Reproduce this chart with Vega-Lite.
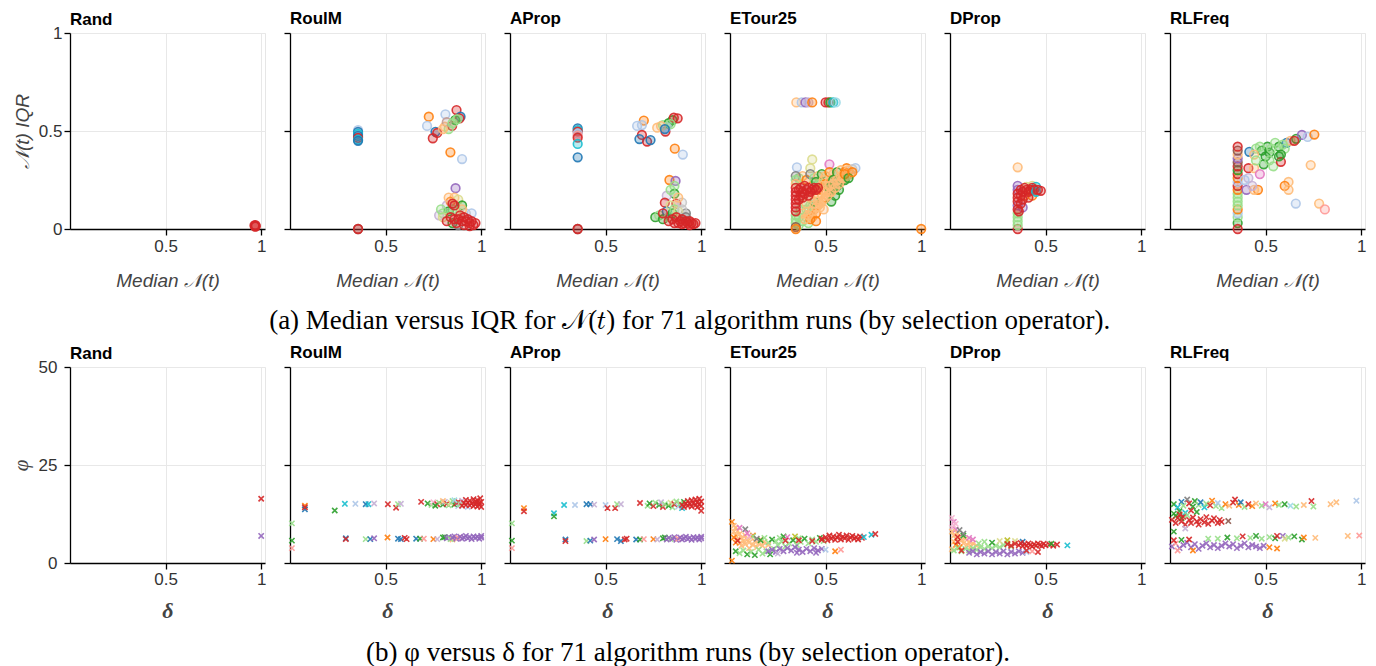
{
"$schema": "https://vega.github.io/schema/vega-lite/v6.json",
"padding": {"left": 9, "top": 9, "right": 6, "bottom": 0},
"config": {
  "font": "Liberation Sans",
  "view": {"stroke": "#e6e6e6"},
  "axis": {"domainColor": "#000", "domainWidth": 1.3, "tickColor": "#000", "tickWidth": 1.3, "tickSize": 6, "gridColor": "#e8e8e8", "labelFont": "Liberation Sans", "labelFontSize": 17, "labelColor": "#333", "titleFont": "Liberation Sans", "titleFontSize": 19, "titleFontStyle": "italic", "titleFontWeight": "normal", "titleColor": "#444"},
  "title": {"font": "Liberation Sans", "fontSize": 17, "fontWeight": "bold", "anchor": "start", "frame": "group", "color": "#000", "offset": 0}
},
"datasets": {
"aRand": [{"x":0.965,"y":0.018,"c":6},{"x":0.97,"y":0.02,"c":6},{"x":0.972,"y":0.014,"c":6},{"x":0.968,"y":0.012,"c":6}],
"aRoulM": [{"x":0.356,"y":0.505,"c":1},{"x":0.356,"y":0.495,"c":0},{"x":0.356,"y":0.485,"c":18},{"x":0.356,"y":0.475,"c":0},{"x":0.356,"y":0.465,"c":6},{"x":0.356,"y":0.455,"c":18},{"x":0.356,"y":0.45,"c":0},{"x":0.356,"y":0.0,"c":10},{"x":0.356,"y":0.0,"c":6},
{"x":0.726,"y":0.573,"c":2},{"x":0.717,"y":0.526,"c":1},{"x":0.813,"y":0.585,"c":1},{"x":0.871,"y":0.607,"c":6},{"x":0.892,"y":0.573,"c":0},{"x":0.887,"y":0.565,"c":6},{"x":0.761,"y":0.496,"c":0},{"x":0.77,"y":0.49,"c":6},{"x":0.747,"y":0.463,"c":6},{"x":0.81,"y":0.522,"c":3},{"x":0.848,"y":0.526,"c":6},{"x":0.83,"y":0.51,"c":5},{"x":0.864,"y":0.556,"c":4},{"x":0.82,"y":0.545,"c":11},{"x":0.85,"y":0.54,"c":5},{"x":0.875,"y":0.56,"c":5},{"x":0.8,"y":0.51,"c":3},
{"x":0.839,"y":0.391,"c":2},{"x":0.90,"y":0.357,"c":1},{"x":0.866,"y":0.208,"c":8},
{"x":0.86,"y":0.16,"c":3},{"x":0.84,"y":0.14,"c":2},{"x":0.88,"y":0.15,"c":17},{"x":0.82,"y":0.12,"c":9},{"x":0.9,"y":0.12,"c":4},{"x":0.85,"y":0.1,"c":5},{"x":0.8,"y":0.08,"c":5},{"x":0.78,"y":0.07,"c":9},{"x":0.83,"y":0.09,"c":4},{"x":0.87,"y":0.09,"c":5},{"x":0.92,"y":0.08,"c":15},{"x":0.95,"y":0.08,"c":1},{"x":0.8,"y":0.06,"c":17},{"x":0.9,"y":0.1,"c":3},{"x":0.79,"y":0.1,"c":5},{"x":0.83,"y":0.16,"c":3},{"x":0.85,"y":0.03,"c":4},{"x":0.88,"y":0.02,"c":14},
{"x":0.86,"y":0.12,"c":6},{"x":0.85,"y":0.13,"c":6},{"x":0.84,"y":0.06,"c":6},{"x":0.86,"y":0.05,"c":6},{"x":0.88,"y":0.05,"c":6},{"x":0.9,"y":0.04,"c":6},{"x":0.92,"y":0.04,"c":6},{"x":0.94,"y":0.03,"c":6},{"x":0.96,"y":0.02,"c":6},{"x":0.89,"y":0.07,"c":6},{"x":0.91,"y":0.06,"c":6},{"x":0.93,"y":0.05,"c":6},{"x":0.95,"y":0.04,"c":6},{"x":0.97,"y":0.03,"c":6},{"x":0.82,"y":0.04,"c":6},{"x":0.87,"y":0.03,"c":6},{"x":0.91,"y":0.02,"c":6},{"x":0.94,"y":0.015,"c":6}],
"aAProp": [{"x":0.354,"y":0.514,"c":0},{"x":0.354,"y":0.505,"c":18},{"x":0.354,"y":0.497,"c":6},{"x":0.354,"y":0.486,"c":1},{"x":0.354,"y":0.476,"c":7},{"x":0.354,"y":0.466,"c":6},{"x":0.354,"y":0.434,"c":18},{"x":0.354,"y":0.366,"c":0},{"x":0.354,"y":0.0,"c":10},{"x":0.354,"y":0.0,"c":6},
{"x":0.70,"y":0.553,"c":2},{"x":0.665,"y":0.526,"c":1},{"x":0.69,"y":0.53,"c":1},{"x":0.69,"y":0.48,"c":6},{"x":0.677,"y":0.459,"c":0},{"x":0.717,"y":0.446,"c":6},{"x":0.735,"y":0.454,"c":0},{"x":0.813,"y":0.497,"c":6},{"x":0.77,"y":0.517,"c":3},{"x":0.80,"y":0.53,"c":5},{"x":0.83,"y":0.54,"c":4},{"x":0.85,"y":0.555,"c":4},{"x":0.857,"y":0.568,"c":6},{"x":0.877,"y":0.565,"c":6},{"x":0.82,"y":0.52,"c":1},{"x":0.79,"y":0.525,"c":3},{"x":0.84,"y":0.535,"c":5},{"x":0.81,"y":0.51,"c":0},
{"x":0.862,"y":0.41,"c":2},{"x":0.904,"y":0.38,"c":1},{"x":0.834,"y":0.25,"c":2},{"x":0.866,"y":0.245,"c":8},{"x":0.86,"y":0.22,"c":5},{"x":0.86,"y":0.18,"c":4},{"x":0.82,"y":0.17,"c":9},{"x":0.81,"y":0.134,"c":6},{"x":0.87,"y":0.13,"c":6},{"x":0.9,"y":0.135,"c":15},{"x":0.92,"y":0.08,"c":14},{"x":0.84,"y":0.2,"c":5},{"x":0.88,"y":0.16,"c":3},
{"x":0.76,"y":0.06,"c":4},{"x":0.78,"y":0.07,"c":5},{"x":0.8,"y":0.05,"c":4},{"x":0.82,"y":0.09,"c":0},{"x":0.83,"y":0.06,"c":5},{"x":0.84,"y":0.12,"c":17},{"x":0.85,"y":0.08,"c":4},{"x":0.86,"y":0.1,"c":5},{"x":0.88,"y":0.09,"c":17},{"x":0.9,"y":0.1,"c":15},{"x":0.92,"y":0.06,"c":14},
{"x":0.8,"y":0.08,"c":6},{"x":0.83,"y":0.04,"c":6},{"x":0.85,"y":0.05,"c":6},{"x":0.87,"y":0.06,"c":6},{"x":0.89,"y":0.04,"c":6},{"x":0.9,"y":0.05,"c":6},{"x":0.91,"y":0.03,"c":6},{"x":0.92,"y":0.04,"c":6},{"x":0.93,"y":0.03,"c":6},{"x":0.94,"y":0.04,"c":6},{"x":0.95,"y":0.03,"c":6},{"x":0.96,"y":0.025,"c":6},{"x":0.88,"y":0.03,"c":6},{"x":0.86,"y":0.03,"c":6},{"x":0.9,"y":0.025,"c":6},{"x":0.94,"y":0.02,"c":6},{"x":0.97,"y":0.03,"c":6}],
"aETour25": [{"x":0.347,"y":0.646,"c":3},{"x":0.375,"y":0.646,"c":1},{"x":0.395,"y":0.646,"c":8},{"x":0.41,"y":0.646,"c":9},{"x":0.43,"y":0.646,"c":2},{"x":0.5,"y":0.646,"c":6},{"x":0.515,"y":0.646,"c":6},{"x":0.525,"y":0.646,"c":4},{"x":0.54,"y":0.646,"c":18},{"x":0.553,"y":0.646,"c":19},{"x":1.0,"y":0.0,"c":2},
{"x":0.43,"y":0.355,"c":17},{"x":0.35,"y":0.315,"c":1},{"x":0.42,"y":0.31,"c":17},{"x":0.52,"y":0.33,"c":12},{"x":0.656,"y":0.311,"c":1},{"x":0.61,"y":0.31,"c":2},{"x":0.64,"y":0.305,"c":15},
{"x":0.36,"y":0.26,"c":5},{"x":0.38,"y":0.27,"c":3},{"x":0.4,"y":0.25,"c":2},{"x":0.42,"y":0.28,"c":14},{"x":0.44,"y":0.26,"c":5},{"x":0.46,"y":0.27,"c":3},{"x":0.48,"y":0.28,"c":4},{"x":0.5,"y":0.27,"c":3},{"x":0.52,"y":0.29,"c":2},{"x":0.54,"y":0.28,"c":3},{"x":0.56,"y":0.29,"c":4},{"x":0.58,"y":0.3,"c":3},{"x":0.6,"y":0.29,"c":2},{"x":0.62,"y":0.3,"c":3},{"x":0.45,"y":0.24,"c":4},{"x":0.47,"y":0.23,"c":5},{"x":0.49,"y":0.25,"c":3},{"x":0.5,"y":0.23,"c":2},{"x":0.52,"y":0.24,"c":3},{"x":0.54,"y":0.25,"c":4},
{"x":0.38,"y":0.04,"c":5},{"x":0.4,"y":0.06,"c":3},{"x":0.42,"y":0.08,"c":3},{"x":0.44,"y":0.1,"c":3},{"x":0.46,"y":0.12,"c":3},{"x":0.48,"y":0.14,"c":3},{"x":0.5,"y":0.16,"c":2},{"x":0.52,"y":0.18,"c":3},{"x":0.54,"y":0.2,"c":3},{"x":0.56,"y":0.22,"c":4},{"x":0.58,"y":0.24,"c":3},{"x":0.6,"y":0.25,"c":4},{"x":0.4,"y":0.1,"c":5},{"x":0.42,"y":0.12,"c":5},{"x":0.44,"y":0.14,"c":4},{"x":0.46,"y":0.16,"c":3},{"x":0.48,"y":0.18,"c":3},{"x":0.5,"y":0.2,"c":3},{"x":0.52,"y":0.21,"c":4},{"x":0.55,"y":0.17,"c":4},{"x":0.57,"y":0.2,"c":4},{"x":0.41,"y":0.03,"c":5},{"x":0.36,"y":0.06,"c":5},{"x":0.37,"y":0.1,"c":5},{"x":0.39,"y":0.13,"c":5},{"x":0.36,"y":0.02,"c":5},{"x":0.43,"y":0.06,"c":3},{"x":0.45,"y":0.08,"c":2},{"x":0.47,"y":0.11,"c":3},{"x":0.53,"y":0.14,"c":4},{"x":0.49,"y":0.1,"c":3},{"x":0.42,"y":0.05,"c":2},{"x":0.46,"y":0.2,"c":2},
{"x":0.39,"y":0.05,"c":3},{"x":0.41,"y":0.07,"c":3},{"x":0.43,"y":0.09,"c":3},{"x":0.45,"y":0.11,"c":3},{"x":0.47,"y":0.13,"c":3},{"x":0.49,"y":0.15,"c":3},{"x":0.51,"y":0.17,"c":3},{"x":0.53,"y":0.19,"c":3},{"x":0.55,"y":0.21,"c":3},{"x":0.57,"y":0.23,"c":3},{"x":0.59,"y":0.26,"c":3},{"x":0.61,"y":0.27,"c":3},{"x":0.63,"y":0.28,"c":3},{"x":0.38,"y":0.08,"c":3},{"x":0.4,"y":0.13,"c":3},{"x":0.42,"y":0.16,"c":3},{"x":0.44,"y":0.18,"c":3},{"x":0.46,"y":0.14,"c":3},{"x":0.48,"y":0.22,"c":3},{"x":0.5,"y":0.19,"c":3},{"x":0.52,"y":0.22,"c":3},{"x":0.54,"y":0.23,"c":3},{"x":0.56,"y":0.25,"c":3},{"x":0.58,"y":0.27,"c":3},{"x":0.6,"y":0.28,"c":2},{"x":0.62,"y":0.26,"c":4},{"x":0.64,"y":0.29,"c":2},{"x":0.45,"y":0.04,"c":2},
{"x":0.344,"y":0.27,"c":14},{"x":0.344,"y":0.25,"c":5},{"x":0.344,"y":0.23,"c":3},{"x":0.344,"y":0.07,"c":5},{"x":0.344,"y":0.05,"c":5},{"x":0.344,"y":0.03,"c":5},{"x":0.344,"y":0.01,"c":10},{"x":0.344,"y":0.0,"c":2},
{"x":0.344,"y":0.21,"c":6},{"x":0.344,"y":0.19,"c":6},{"x":0.344,"y":0.17,"c":6},{"x":0.344,"y":0.15,"c":6},{"x":0.344,"y":0.13,"c":6},{"x":0.344,"y":0.11,"c":6},{"x":0.344,"y":0.09,"c":6},
{"x":0.36,"y":0.2,"c":6},{"x":0.37,"y":0.21,"c":6},{"x":0.38,"y":0.19,"c":6},{"x":0.39,"y":0.22,"c":6},{"x":0.4,"y":0.2,"c":6},{"x":0.41,"y":0.21,"c":6},{"x":0.42,"y":0.19,"c":6},{"x":0.43,"y":0.2,"c":6},{"x":0.44,"y":0.21,"c":6},{"x":0.45,"y":0.2,"c":6},{"x":0.46,"y":0.21,"c":6},{"x":0.37,"y":0.17,"c":6},{"x":0.39,"y":0.18,"c":6},{"x":0.41,"y":0.17,"c":6},{"x":0.36,"y":0.15,"c":6},{"x":0.38,"y":0.16,"c":6}],
"aDProp": [{"x":0.354,"y":0.315,"c":3},{"x":0.354,"y":0.0,"c":6},{"x":0.354,"y":0.02,"c":5},{"x":0.354,"y":0.04,"c":5},{"x":0.354,"y":0.06,"c":5},{"x":0.354,"y":0.08,"c":5},{"x":0.354,"y":0.12,"c":8},{"x":0.354,"y":0.2,"c":8},{"x":0.354,"y":0.22,"c":8},{"x":0.4,"y":0.215,"c":17},{"x":0.43,"y":0.22,"c":17},{"x":0.45,"y":0.215,"c":18},{"x":0.38,"y":0.11,"c":8},{"x":0.39,"y":0.17,"c":2},{"x":0.43,"y":0.17,"c":2},
{"x":0.354,"y":0.1,"c":6},{"x":0.354,"y":0.14,"c":6},{"x":0.354,"y":0.16,"c":6},{"x":0.354,"y":0.18,"c":6},{"x":0.37,"y":0.2,"c":6},{"x":0.38,"y":0.19,"c":6},{"x":0.39,"y":0.21,"c":6},{"x":0.4,"y":0.2,"c":6},{"x":0.41,"y":0.19,"c":6},{"x":0.42,"y":0.2,"c":6},{"x":0.43,"y":0.21,"c":6},{"x":0.44,"y":0.2,"c":6},{"x":0.45,"y":0.19,"c":18},{"x":0.46,"y":0.2,"c":6},{"x":0.475,"y":0.195,"c":6},{"x":0.37,"y":0.17,"c":6},{"x":0.38,"y":0.15,"c":6},{"x":0.41,"y":0.16,"c":6},{"x":0.37,"y":0.13,"c":6},{"x":0.36,"y":0.09,"c":6}],
"aRLFreq": [{"x":0.354,"y":0.03,"c":4},{"x":0.354,"y":0.06,"c":5},{"x":0.354,"y":0.08,"c":1},{"x":0.354,"y":0.1,"c":2},{"x":0.354,"y":0.12,"c":5},{"x":0.354,"y":0.14,"c":5},{"x":0.354,"y":0.16,"c":5},{"x":0.354,"y":0.18,"c":5},{"x":0.354,"y":0.2,"c":2},{"x":0.354,"y":0.22,"c":6},{"x":0.354,"y":0.24,"c":1},{"x":0.354,"y":0.26,"c":2},{"x":0.354,"y":0.28,"c":6},{"x":0.354,"y":0.3,"c":4},{"x":0.354,"y":0.32,"c":6},{"x":0.354,"y":0.34,"c":10},{"x":0.354,"y":0.36,"c":8},{"x":0.354,"y":0.38,"c":3},{"x":0.354,"y":0.4,"c":10},{"x":0.354,"y":0.42,"c":6},{"x":0.354,"y":0.0,"c":6},
{"x":0.415,"y":0.394,"c":0},{"x":0.45,"y":0.41,"c":5},{"x":0.48,"y":0.40,"c":4},{"x":0.51,"y":0.42,"c":4},{"x":0.5,"y":0.37,"c":4},{"x":0.52,"y":0.39,"c":4},{"x":0.55,"y":0.44,"c":5},{"x":0.57,"y":0.42,"c":4},{"x":0.61,"y":0.44,"c":0},{"x":0.63,"y":0.45,"c":3},{"x":0.66,"y":0.46,"c":4},{"x":0.69,"y":0.48,"c":8},{"x":0.72,"y":0.47,"c":1},{"x":0.755,"y":0.482,"c":2},{"x":0.53,"y":0.41,"c":5},{"x":0.47,"y":0.42,"c":5},{"x":0.59,"y":0.43,"c":5},{"x":0.44,"y":0.38,"c":3},{"x":0.65,"y":0.45,"c":6},{"x":0.6,"y":0.41,"c":5},{"x":0.58,"y":0.38,"c":4},{"x":0.49,"y":0.33,"c":4},{"x":0.54,"y":0.32,"c":5},{"x":0.58,"y":0.343,"c":6},{"x":0.57,"y":0.37,"c":4},{"x":0.41,"y":0.31,"c":6},{"x":0.44,"y":0.31,"c":3},{"x":0.47,"y":0.28,"c":12},{"x":0.41,"y":0.26,"c":9},{"x":0.4,"y":0.2,"c":8},{"x":0.46,"y":0.2,"c":2},{"x":0.44,"y":0.2,"c":3},{"x":0.736,"y":0.326,"c":3},{"x":0.62,"y":0.24,"c":3},{"x":0.6,"y":0.22,"c":2},{"x":0.62,"y":0.2,"c":3},{"x":0.658,"y":0.13,"c":1},{"x":0.78,"y":0.13,"c":3},{"x":0.81,"y":0.1,"c":7},{"x":0.52,"y":0.35,"c":5},{"x":0.45,"y":0.35,"c":5},{"x":0.43,"y":0.22,"c":9},{"x":0.39,"y":0.25,"c":1}],
"bRand": [{"x":1.0,"y":16.4,"c":6},{"x":1.0,"y":6.9,"c":8}],
"bRoulM": [{"x":0.01,"y":10.1,"c":5},{"x":0.01,"y":5.7,"c":4},{"x":0.01,"y":3.8,"c":7},{"x":0.078,"y":14.6,"c":2},{"x":0.078,"y":13.7,"c":0},{"x":0.078,"y":14.2,"c":6},{"x":0.234,"y":13.4,"c":4},{"x":0.287,"y":15.1,"c":18},{"x":0.342,"y":15.1,"c":1},{"x":0.396,"y":15.0,"c":0},{"x":0.41,"y":15.0,"c":18},{"x":0.44,"y":15.2,"c":9},{"x":0.512,"y":15.0,"c":6},{"x":0.555,"y":14.1,"c":6},{"x":0.565,"y":15.0,"c":5},{"x":0.58,"y":15.1,"c":9},{"x":0.686,"y":15.6,"c":6},
{"x":0.72,"y":15.2,"c":4},{"x":0.74,"y":14.8,"c":5},{"x":0.75,"y":15.5,"c":13},{"x":0.77,"y":15.0,"c":6},{"x":0.78,"y":15.4,"c":5},{"x":0.8,"y":14.9,"c":4},{"x":0.81,"y":15.6,"c":9},{"x":0.82,"y":15.1,"c":6},{"x":0.83,"y":14.7,"c":5},{"x":0.84,"y":15.3,"c":17},{"x":0.85,"y":15.8,"c":5},{"x":0.86,"y":14.9,"c":4},{"x":0.87,"y":15.2,"c":6},{"x":0.88,"y":14.5,"c":1},{"x":0.88,"y":15.6,"c":6},{"x":0.89,"y":15.0,"c":5},{"x":0.9,"y":14.6,"c":6},{"x":0.9,"y":15.9,"c":9},{"x":0.86,"y":16.0,"c":19},{"x":0.8,"y":15.8,"c":3},{"x":0.93,"y":14.3,"c":1},{"x":0.76,"y":14.6,"c":4},{"x":0.91,"y":15.3,"c":6},{"x":0.92,"y":14.8,"c":6},{"x":0.92,"y":16.1,"c":6},{"x":0.93,"y":15.4,"c":6},{"x":0.94,"y":14.7,"c":6},{"x":0.94,"y":15.9,"c":6},{"x":0.95,"y":15.2,"c":6},{"x":0.96,"y":14.5,"c":6},{"x":0.96,"y":16.3,"c":6},{"x":0.97,"y":15.0,"c":6},{"x":0.97,"y":15.7,"c":6},{"x":0.98,"y":14.4,"c":6},{"x":0.98,"y":16.0,"c":6},{"x":0.99,"y":15.3,"c":6},{"x":0.99,"y":14.8,"c":6},{"x":1.0,"y":15.6,"c":6},{"x":1.0,"y":14.3,"c":6},{"x":0.995,"y":16.5,"c":6},
{"x":0.292,"y":6.3,"c":0},{"x":0.292,"y":6.1,"c":6},{"x":0.396,"y":6.1,"c":5},{"x":0.42,"y":6.1,"c":0},{"x":0.44,"y":6.3,"c":8},{"x":0.51,"y":6.5,"c":2},{"x":0.565,"y":6.2,"c":0},{"x":0.58,"y":6.1,"c":0},{"x":0.6,"y":6.4,"c":6},{"x":0.61,"y":6.1,"c":6},{"x":0.66,"y":6.2,"c":0},{"x":0.68,"y":6.2,"c":4},{"x":0.7,"y":6.2,"c":7},{"x":0.75,"y":6.1,"c":2},{"x":0.77,"y":6.1,"c":9},{"x":0.8,"y":6.5,"c":4},{"x":0.85,"y":6.0,"c":3},{"x":0.81,"y":6.6,"c":4},
{"x":0.82,"y":6.3,"c":8},{"x":0.83,"y":6.6,"c":8},{"x":0.84,"y":6.1,"c":5},{"x":0.85,"y":6.5,"c":8},{"x":0.86,"y":6.8,"c":8},{"x":0.87,"y":6.2,"c":8},{"x":0.88,"y":6.4,"c":7},{"x":0.89,"y":6.7,"c":8},{"x":0.9,"y":6.2,"c":8},{"x":0.91,"y":6.5,"c":8},{"x":0.92,"y":6.9,"c":8},{"x":0.93,"y":6.3,"c":8},{"x":0.94,"y":6.6,"c":8},{"x":0.95,"y":6.1,"c":8},{"x":0.96,"y":6.8,"c":8},{"x":0.97,"y":6.4,"c":8},{"x":0.98,"y":6.7,"c":8},{"x":0.99,"y":6.2,"c":8},{"x":1.0,"y":6.5,"c":8},{"x":1.0,"y":6.9,"c":8}],
"bAProp": [{"x":0.01,"y":10.1,"c":5},{"x":0.01,"y":5.7,"c":4},{"x":0.01,"y":3.8,"c":7},{"x":0.073,"y":14.0,"c":2},{"x":0.073,"y":13.2,"c":6},{"x":0.23,"y":12.7,"c":18},{"x":0.23,"y":11.9,"c":4},{"x":0.283,"y":14.8,"c":18},{"x":0.34,"y":14.8,"c":1},{"x":0.4,"y":15.0,"c":0},{"x":0.42,"y":15.0,"c":0},{"x":0.44,"y":14.9,"c":9},{"x":0.5,"y":14.8,"c":1},{"x":0.51,"y":14.0,"c":6},{"x":0.55,"y":14.0,"c":6},{"x":0.56,"y":15.0,"c":5},{"x":0.58,"y":15.0,"c":9},{"x":0.68,"y":15.3,"c":6},
{"x":0.72,"y":14.6,"c":5},{"x":0.73,"y":15.2,"c":4},{"x":0.75,"y":14.5,"c":6},{"x":0.76,"y":15.4,"c":5},{"x":0.78,"y":14.8,"c":4},{"x":0.79,"y":15.5,"c":9},{"x":0.8,"y":14.3,"c":6},{"x":0.81,"y":15.0,"c":5},{"x":0.83,"y":14.6,"c":4},{"x":0.84,"y":15.4,"c":17},{"x":0.85,"y":14.2,"c":5},{"x":0.86,"y":15.0,"c":6},{"x":0.87,"y":15.7,"c":5},{"x":0.88,"y":14.4,"c":1},{"x":0.89,"y":15.2,"c":5},{"x":0.9,"y":14.0,"c":18},{"x":0.91,"y":15.6,"c":4},
{"x":0.9,"y":14.8,"c":6},{"x":0.91,"y":14.3,"c":6},{"x":0.92,"y":15.2,"c":6},{"x":0.93,"y":14.6,"c":6},{"x":0.93,"y":15.8,"c":6},{"x":0.94,"y":15.0,"c":6},{"x":0.95,"y":14.4,"c":6},{"x":0.95,"y":16.0,"c":6},{"x":0.96,"y":15.3,"c":6},{"x":0.97,"y":14.7,"c":6},{"x":0.97,"y":16.2,"c":6},{"x":0.98,"y":15.5,"c":6},{"x":0.98,"y":14.2,"c":6},{"x":0.99,"y":15.0,"c":6},{"x":0.99,"y":16.4,"c":6},{"x":1.0,"y":15.7,"c":6},{"x":1.0,"y":14.5,"c":6},{"x":1.0,"y":13.3,"c":6},
{"x":0.29,"y":6.0,"c":0},{"x":0.29,"y":5.6,"c":6},{"x":0.4,"y":5.6,"c":5},{"x":0.42,"y":5.7,"c":0},{"x":0.44,"y":6.0,"c":8},{"x":0.5,"y":6.1,"c":2},{"x":0.56,"y":6.1,"c":0},{"x":0.58,"y":5.6,"c":0},{"x":0.6,"y":6.0,"c":6},{"x":0.61,"y":6.2,"c":6},{"x":0.66,"y":6.0,"c":0},{"x":0.68,"y":6.0,"c":4},{"x":0.7,"y":6.1,"c":7},{"x":0.75,"y":6.1,"c":2},{"x":0.77,"y":6.0,"c":9},{"x":0.8,"y":6.3,"c":4},{"x":0.84,"y":6.1,"c":5},{"x":0.81,"y":6.5,"c":4},
{"x":0.82,"y":6.0,"c":8},{"x":0.83,"y":6.4,"c":8},{"x":0.85,"y":6.2,"c":8},{"x":0.86,"y":6.6,"c":8},{"x":0.87,"y":5.9,"c":8},{"x":0.88,"y":6.2,"c":7},{"x":0.89,"y":6.5,"c":8},{"x":0.9,"y":6.0,"c":8},{"x":0.91,"y":6.3,"c":8},{"x":0.92,"y":6.7,"c":8},{"x":0.93,"y":6.1,"c":8},{"x":0.94,"y":6.4,"c":8},{"x":0.95,"y":5.9,"c":8},{"x":0.96,"y":6.6,"c":8},{"x":0.97,"y":6.2,"c":8},{"x":0.98,"y":6.5,"c":8},{"x":0.99,"y":6.0,"c":8},{"x":1.0,"y":6.3,"c":8},{"x":1.0,"y":6.7,"c":8}],
"bETour25": [{"x":0.01,"y":10.5,"c":2},{"x":0.02,"y":9.5,"c":3},{"x":0.02,"y":8.0,"c":3},{"x":0.03,"y":7.0,"c":3},{"x":0.03,"y":9.0,"c":3},{"x":0.04,"y":6.0,"c":3},{"x":0.04,"y":8.2,"c":3},{"x":0.05,"y":5.0,"c":3},{"x":0.05,"y":7.4,"c":3},{"x":0.06,"y":6.4,"c":3},{"x":0.06,"y":4.4,"c":3},{"x":0.07,"y":5.6,"c":3},{"x":0.08,"y":7.0,"c":3},{"x":0.08,"y":4.8,"c":3},{"x":0.09,"y":6.0,"c":3},{"x":0.1,"y":5.2,"c":3},{"x":0.1,"y":3.8,"c":3},{"x":0.11,"y":6.4,"c":3},{"x":0.12,"y":4.6,"c":3},{"x":0.13,"y":5.6,"c":3},{"x":0.14,"y":4.0,"c":3},{"x":0.15,"y":5.0,"c":3},{"x":0.16,"y":6.0,"c":3},{"x":0.17,"y":4.4,"c":3},{"x":0.18,"y":5.4,"c":3},{"x":0.2,"y":4.6,"c":3},{"x":0.02,"y":6.5,"c":2},{"x":0.05,"y":9.0,"c":12},{"x":0.03,"y":5.2,"c":2},{"x":0.12,"y":7.0,"c":2},{"x":0.01,"y":0.6,"c":2},
{"x":0.03,"y":3.0,"c":4},{"x":0.05,"y":2.5,"c":5},{"x":0.07,"y":3.2,"c":5},{"x":0.09,"y":2.2,"c":4},{"x":0.11,"y":2.8,"c":5},{"x":0.13,"y":2.0,"c":4},{"x":0.15,"y":3.4,"c":5},{"x":0.17,"y":2.4,"c":5},{"x":0.19,"y":3.0,"c":5},{"x":0.21,"y":2.2,"c":4},{"x":0.23,"y":3.6,"c":5},{"x":0.25,"y":4.6,"c":5},{"x":0.27,"y":5.4,"c":5},{"x":0.29,"y":4.2,"c":5},{"x":0.31,"y":5.0,"c":5},{"x":0.33,"y":5.8,"c":4},{"x":0.35,"y":4.6,"c":5},{"x":0.37,"y":5.4,"c":5},{"x":0.39,"y":6.2,"c":4},{"x":0.41,"y":5.0,"c":5},{"x":0.43,"y":6.0,"c":5},{"x":0.45,"y":5.4,"c":5},{"x":0.47,"y":6.4,"c":4},{"x":0.49,"y":5.6,"c":5},{"x":0.2,"y":5.2,"c":5},{"x":0.22,"y":6.0,"c":4},{"x":0.24,"y":5.6,"c":5},{"x":0.26,"y":6.4,"c":5},{"x":0.28,"y":6.8,"c":4},{"x":0.16,"y":5.8,"c":4},{"x":0.18,"y":6.4,"c":5},{"x":0.12,"y":6.8,"c":5},{"x":0.14,"y":6.2,"c":14},{"x":0.1,"y":6.8,"c":13},{"x":0.08,"y":8.6,"c":14},{"x":0.09,"y":7.6,"c":12},{"x":0.3,"y":6.6,"c":12},{"x":0.34,"y":6.8,"c":16},{"x":0.36,"y":6.3,"c":5},
{"x":0.2,"y":3.0,"c":8},{"x":0.22,"y":3.4,"c":8},{"x":0.24,"y":2.8,"c":8},{"x":0.26,"y":3.6,"c":8},{"x":0.28,"y":3.0,"c":8},{"x":0.3,"y":3.8,"c":8},{"x":0.32,"y":3.2,"c":8},{"x":0.34,"y":4.0,"c":8},{"x":0.36,"y":3.4,"c":8},{"x":0.38,"y":2.8,"c":8},{"x":0.4,"y":3.6,"c":8},{"x":0.42,"y":3.0,"c":8},{"x":0.44,"y":3.8,"c":8},{"x":0.46,"y":3.2,"c":8},{"x":0.48,"y":3.6,"c":8},{"x":0.5,"y":3.4,"c":1},{"x":0.25,"y":2.4,"c":9},{"x":0.35,"y":2.6,"c":8},{"x":0.45,"y":2.6,"c":8},{"x":0.55,"y":3.0,"c":2},{"x":0.58,"y":3.4,"c":7},
{"x":0.48,"y":6.2,"c":6},{"x":0.5,"y":6.6,"c":6},{"x":0.51,"y":5.8,"c":6},{"x":0.52,"y":7.0,"c":6},{"x":0.53,"y":6.2,"c":6},{"x":0.54,"y":6.8,"c":6},{"x":0.55,"y":5.9,"c":6},{"x":0.56,"y":6.5,"c":6},{"x":0.57,"y":7.2,"c":6},{"x":0.58,"y":6.0,"c":6},{"x":0.59,"y":6.7,"c":6},{"x":0.6,"y":6.3,"c":6},{"x":0.61,"y":7.0,"c":6},{"x":0.62,"y":5.9,"c":6},{"x":0.63,"y":6.5,"c":6},{"x":0.64,"y":6.9,"c":6},{"x":0.65,"y":6.2,"c":6},{"x":0.66,"y":6.6,"c":6},{"x":0.67,"y":6.0,"c":6},{"x":0.68,"y":6.8,"c":6},{"x":0.69,"y":6.4,"c":6},{"x":0.7,"y":6.6,"c":18},{"x":0.74,"y":7.2,"c":18},{"x":0.76,"y":7.4,"c":6},{"x":0.04,"y":5.7,"c":6},{"x":0.29,"y":5.7,"c":6},{"x":0.36,"y":5.8,"c":6},{"x":0.43,"y":5.6,"c":6},{"x":0.48,"y":5.9,"c":6}],
"bDProp": [{"x":0.01,"y":11.5,"c":13},{"x":0.02,"y":10.5,"c":12},{"x":0.02,"y":9.5,"c":13},{"x":0.03,"y":8.5,"c":12},{"x":0.01,"y":9.0,"c":13},{"x":0.03,"y":10.0,"c":13},
{"x":0.01,"y":8.0,"c":3},{"x":0.02,"y":7.0,"c":3},{"x":0.03,"y":6.2,"c":3},{"x":0.02,"y":5.4,"c":3},{"x":0.04,"y":7.6,"c":3},{"x":0.05,"y":6.6,"c":3},{"x":0.06,"y":5.8,"c":3},{"x":0.07,"y":5.0,"c":3},{"x":0.08,"y":6.2,"c":3},{"x":0.09,"y":4.6,"c":3},{"x":0.1,"y":5.4,"c":3},{"x":0.11,"y":4.2,"c":3},{"x":0.12,"y":5.0,"c":3},{"x":0.14,"y":4.4,"c":3},{"x":0.03,"y":4.6,"c":2},{"x":0.05,"y":4.0,"c":2},{"x":0.01,"y":3.5,"c":3},
{"x":0.02,"y":3.2,"c":5},{"x":0.04,"y":3.8,"c":5},{"x":0.06,"y":3.0,"c":5},{"x":0.08,"y":3.6,"c":5},{"x":0.1,"y":3.2,"c":5},{"x":0.12,"y":3.8,"c":5},{"x":0.14,"y":3.4,"c":5},{"x":0.16,"y":4.0,"c":5},{"x":0.18,"y":3.6,"c":5},{"x":0.2,"y":4.2,"c":5},{"x":0.22,"y":3.8,"c":5},{"x":0.24,"y":4.4,"c":5},{"x":0.26,"y":4.0,"c":5},{"x":0.28,"y":4.6,"c":5},{"x":0.3,"y":5.0,"c":5},{"x":0.32,"y":4.2,"c":5},{"x":0.15,"y":5.0,"c":5},{"x":0.18,"y":5.4,"c":5},{"x":0.22,"y":5.2,"c":4},{"x":0.26,"y":5.6,"c":17},{"x":0.3,"y":5.8,"c":16},{"x":0.34,"y":5.6,"c":17},{"x":0.38,"y":5.4,"c":0},{"x":0.07,"y":7.0,"c":4},{"x":0.05,"y":8.4,"c":14},{"x":0.07,"y":7.5,"c":14},{"x":0.1,"y":6.4,"c":12},{"x":0.12,"y":6.0,"c":12},
{"x":0.1,"y":2.6,"c":8},{"x":0.12,"y":3.0,"c":8},{"x":0.14,"y":2.2,"c":8},{"x":0.16,"y":2.8,"c":8},{"x":0.18,"y":2.4,"c":8},{"x":0.2,"y":3.0,"c":8},{"x":0.22,"y":2.2,"c":8},{"x":0.24,"y":2.8,"c":8},{"x":0.26,"y":2.4,"c":8},{"x":0.28,"y":3.0,"c":8},{"x":0.3,"y":2.2,"c":8},{"x":0.32,"y":2.8,"c":8},{"x":0.34,"y":2.4,"c":8},{"x":0.36,"y":3.0,"c":8},{"x":0.38,"y":2.6,"c":8},{"x":0.4,"y":2.8,"c":1},{"x":0.43,"y":3.0,"c":7},
{"x":0.3,"y":4.8,"c":6},{"x":0.32,"y":4.4,"c":6},{"x":0.34,"y":4.9,"c":6},{"x":0.36,"y":4.5,"c":6},{"x":0.37,"y":5.1,"c":6},{"x":0.38,"y":4.3,"c":6},{"x":0.39,"y":4.8,"c":6},{"x":0.4,"y":4.4,"c":6},{"x":0.41,"y":5.0,"c":6},{"x":0.42,"y":4.6,"c":6},{"x":0.43,"y":4.2,"c":6},{"x":0.44,"y":4.8,"c":6},{"x":0.45,"y":4.4,"c":6},{"x":0.46,"y":5.0,"c":6},{"x":0.47,"y":4.6,"c":6},{"x":0.48,"y":4.3,"c":6},{"x":0.49,"y":4.9,"c":6},{"x":0.5,"y":4.5,"c":6},{"x":0.52,"y":4.7,"c":6},{"x":0.54,"y":4.4,"c":6},{"x":0.56,"y":4.7,"c":6},{"x":0.53,"y":4.9,"c":4},{"x":0.614,"y":4.5,"c":18},{"x":0.04,"y":6.6,"c":6},{"x":0.04,"y":5.4,"c":6},{"x":0.06,"y":3.2,"c":6},{"x":0.40,"y":3.2,"c":6},{"x":0.46,"y":2.8,"c":6}],
"bRLFreq": [{"x":0.02,"y":15.0,"c":4},{"x":0.04,"y":14.2,"c":18},{"x":0.06,"y":15.6,"c":0},{"x":0.07,"y":14.6,"c":5},{"x":0.09,"y":16.2,"c":14},{"x":0.1,"y":15.2,"c":6},{"x":0.12,"y":14.4,"c":4},{"x":0.13,"y":15.8,"c":4},{"x":0.15,"y":14.8,"c":5},{"x":0.16,"y":15.5,"c":0},{"x":0.18,"y":14.2,"c":18},{"x":0.19,"y":15.1,"c":5},{"x":0.21,"y":14.7,"c":6},{"x":0.22,"y":15.9,"c":2},{"x":0.24,"y":14.5,"c":5},{"x":0.25,"y":15.3,"c":1},{"x":0.27,"y":14.0,"c":5},{"x":0.29,"y":15.0,"c":2},{"x":0.31,"y":14.6,"c":3},{"x":0.33,"y":15.4,"c":6},{"x":0.34,"y":16.2,"c":6},{"x":0.36,"y":14.8,"c":2},{"x":0.37,"y":15.5,"c":0},{"x":0.39,"y":14.3,"c":5},{"x":0.41,"y":15.0,"c":6},{"x":0.43,"y":14.5,"c":2},{"x":0.45,"y":15.2,"c":3},{"x":0.48,"y":14.6,"c":5},{"x":0.5,"y":15.0,"c":12},{"x":0.52,"y":14.2,"c":9},{"x":0.55,"y":15.2,"c":2},{"x":0.57,"y":14.8,"c":5},{"x":0.6,"y":15.0,"c":4},{"x":0.63,"y":14.6,"c":19},{"x":0.66,"y":14.4,"c":5},{"x":0.7,"y":14.8,"c":3},{"x":0.74,"y":15.8,"c":6},{"x":0.75,"y":14.4,"c":5},{"x":0.84,"y":15.0,"c":3},{"x":0.87,"y":15.5,"c":3},{"x":0.975,"y":15.9,"c":1},{"x":0.05,"y":13.2,"c":4},{"x":0.08,"y":12.8,"c":18},{"x":0.03,"y":12.0,"c":4},{"x":0.06,"y":11.4,"c":4},{"x":0.11,"y":13.4,"c":6},{"x":0.14,"y":13.0,"c":4},
{"x":0.01,"y":11.0,"c":6},{"x":0.03,"y":10.2,"c":6},{"x":0.04,"y":11.5,"c":6},{"x":0.06,"y":10.6,"c":6},{"x":0.07,"y":11.8,"c":6},{"x":0.08,"y":9.8,"c":6},{"x":0.1,"y":11.0,"c":6},{"x":0.11,"y":10.2,"c":6},{"x":0.12,"y":11.6,"c":6},{"x":0.14,"y":10.6,"c":6},{"x":0.15,"y":9.8,"c":6},{"x":0.16,"y":11.2,"c":6},{"x":0.18,"y":10.4,"c":6},{"x":0.19,"y":11.7,"c":6},{"x":0.2,"y":10.0,"c":6},{"x":0.22,"y":10.8,"c":6},{"x":0.23,"y":11.4,"c":6},{"x":0.25,"y":10.2,"c":6},{"x":0.26,"y":11.0,"c":6},{"x":0.27,"y":10.5,"c":6},{"x":0.305,"y":10.7,"c":10},{"x":0.05,"y":12.4,"c":6},{"x":0.02,"y":12.6,"c":4},{"x":0.09,"y":12.2,"c":5},{"x":0.08,"y":8.8,"c":9},{"x":0.02,"y":8.0,"c":4},
{"x":0.25,"y":6.2,"c":5},{"x":0.3,"y":6.5,"c":4},{"x":0.35,"y":6.3,"c":5},{"x":0.38,"y":6.8,"c":6},{"x":0.42,"y":6.4,"c":5},{"x":0.45,"y":6.9,"c":4},{"x":0.48,"y":6.2,"c":5},{"x":0.52,"y":6.6,"c":5},{"x":0.55,"y":6.3,"c":4},{"x":0.56,"y":6.9,"c":6},{"x":0.59,"y":6.9,"c":8},{"x":0.62,"y":6.5,"c":5},{"x":0.65,"y":6.8,"c":4},{"x":0.69,"y":6.0,"c":4},{"x":0.70,"y":6.5,"c":2},{"x":0.76,"y":6.4,"c":3},{"x":0.93,"y":6.9,"c":3},{"x":0.99,"y":7.0,"c":7},{"x":0.6,"y":6.2,"c":17},
{"x":0.01,"y":4.2,"c":8},{"x":0.03,"y":5.0,"c":7},{"x":0.05,"y":3.8,"c":8},{"x":0.07,"y":4.6,"c":8},{"x":0.09,"y":5.2,"c":8},{"x":0.11,"y":4.0,"c":8},{"x":0.13,"y":4.8,"c":8},{"x":0.15,"y":3.6,"c":8},{"x":0.17,"y":4.4,"c":8},{"x":0.19,"y":5.0,"c":8},{"x":0.21,"y":4.0,"c":8},{"x":0.23,"y":4.6,"c":8},{"x":0.25,"y":3.8,"c":8},{"x":0.27,"y":4.4,"c":8},{"x":0.29,"y":5.0,"c":8},{"x":0.31,"y":4.2,"c":8},{"x":0.33,"y":4.8,"c":8},{"x":0.35,"y":3.8,"c":8},{"x":0.37,"y":4.4,"c":8},{"x":0.39,"y":5.0,"c":8},{"x":0.41,"y":4.0,"c":8},{"x":0.43,"y":4.6,"c":8},{"x":0.45,"y":4.2,"c":8},{"x":0.47,"y":3.8,"c":8},{"x":0.49,"y":4.4,"c":8},{"x":0.04,"y":3.2,"c":7},{"x":0.12,"y":3.2,"c":2},{"x":0.02,"y":5.8,"c":6},{"x":0.06,"y":5.9,"c":4},{"x":0.1,"y":6.0,"c":6},{"x":0.2,"y":6.2,"c":5},{"x":0.56,"y":3.7,"c":2},{"x":0.52,"y":4.0,"c":2}]
},
"spacing": 9,
"vconcat": [
{
"hconcat": [
{"title": {"text": "Rand", "offset": -5}, "width": 195, "height": 196, "data": {"name": "aRand"},
 "mark": {"type": "point", "shape": "circle", "size": 75, "strokeWidth": 1.6, "filled": false, "fillOpacity": 0.3, "strokeOpacity": 0.9},
 "encoding": {
  "x": {"field": "x", "type": "quantitative", "scale": {"domain": [0, 1.02], "nice": false}, "axis": {"values": [0.5, 1], "format": ".1~f", "labelPadding": 3, "title": "Median 𝒩(t)", "titlePadding": 17}},
  "y": {"field": "y", "type": "quantitative", "scale": {"domain": [0, 1], "nice": false}, "axis": {"values": [0, 0.5, 1], "format": ".1~f", "title": "𝒩(t) IQR", "titlePadding": 6}},
  "color": {"field": "c", "type": "nominal", "scale": {"domain": [0,1,2,3,4,5,6,7,8,9,10,11,12,13,14,15,16,17,18,19], "scheme": "category20"}, "legend": null},
  "fill": {"field": "c", "type": "nominal", "scale": {"domain": [0,1,2,3,4,5,6,7,8,9,10,11,12,13,14,15,16,17,18,19], "scheme": "category20"}, "legend": null}}},
{"title": "RoulM", "width": 195, "height": 196, "data": {"name": "aRoulM"},
 "mark": {"type": "point", "shape": "circle", "size": 75, "strokeWidth": 1.6, "filled": false, "fillOpacity": 0.3, "strokeOpacity": 0.9},
 "encoding": {
  "x": {"field": "x", "type": "quantitative", "scale": {"domain": [0, 1.02], "nice": false}, "axis": {"values": [0.5, 1], "format": ".1~f", "labelPadding": 3, "title": "Median 𝒩(t)", "titlePadding": 17}},
  "y": {"field": "y", "type": "quantitative", "scale": {"domain": [0, 1], "nice": false}, "axis": {"values": [0, 0.5, 1], "labels": false, "title": null}},
  "color": {"field": "c", "type": "nominal", "scale": {"domain": [0,1,2,3,4,5,6,7,8,9,10,11,12,13,14,15,16,17,18,19], "scheme": "category20"}, "legend": null},
  "fill": {"field": "c", "type": "nominal", "scale": {"domain": [0,1,2,3,4,5,6,7,8,9,10,11,12,13,14,15,16,17,18,19], "scheme": "category20"}, "legend": null}}},
{"title": "AProp", "width": 195, "height": 196, "data": {"name": "aAProp"},
 "mark": {"type": "point", "shape": "circle", "size": 75, "strokeWidth": 1.6, "filled": false, "fillOpacity": 0.3, "strokeOpacity": 0.9},
 "encoding": {
  "x": {"field": "x", "type": "quantitative", "scale": {"domain": [0, 1.02], "nice": false}, "axis": {"values": [0.5, 1], "format": ".1~f", "labelPadding": 3, "title": "Median 𝒩(t)", "titlePadding": 17}},
  "y": {"field": "y", "type": "quantitative", "scale": {"domain": [0, 1], "nice": false}, "axis": {"values": [0, 0.5, 1], "labels": false, "title": null}},
  "color": {"field": "c", "type": "nominal", "scale": {"domain": [0,1,2,3,4,5,6,7,8,9,10,11,12,13,14,15,16,17,18,19], "scheme": "category20"}, "legend": null},
  "fill": {"field": "c", "type": "nominal", "scale": {"domain": [0,1,2,3,4,5,6,7,8,9,10,11,12,13,14,15,16,17,18,19], "scheme": "category20"}, "legend": null}}},
{"title": "ETour25", "width": 195, "height": 196, "data": {"name": "aETour25"},
 "mark": {"type": "point", "shape": "circle", "size": 75, "strokeWidth": 1.6, "filled": false, "fillOpacity": 0.3, "strokeOpacity": 0.9},
 "encoding": {
  "x": {"field": "x", "type": "quantitative", "scale": {"domain": [0, 1.02], "nice": false}, "axis": {"values": [0.5, 1], "format": ".1~f", "labelPadding": 3, "title": "Median 𝒩(t)", "titlePadding": 17}},
  "y": {"field": "y", "type": "quantitative", "scale": {"domain": [0, 1], "nice": false}, "axis": {"values": [0, 0.5, 1], "labels": false, "title": null}},
  "color": {"field": "c", "type": "nominal", "scale": {"domain": [0,1,2,3,4,5,6,7,8,9,10,11,12,13,14,15,16,17,18,19], "scheme": "category20"}, "legend": null},
  "fill": {"field": "c", "type": "nominal", "scale": {"domain": [0,1,2,3,4,5,6,7,8,9,10,11,12,13,14,15,16,17,18,19], "scheme": "category20"}, "legend": null}}},
{"title": "DProp", "width": 195, "height": 196, "data": {"name": "aDProp"},
 "mark": {"type": "point", "shape": "circle", "size": 75, "strokeWidth": 1.6, "filled": false, "fillOpacity": 0.3, "strokeOpacity": 0.9},
 "encoding": {
  "x": {"field": "x", "type": "quantitative", "scale": {"domain": [0, 1.02], "nice": false}, "axis": {"values": [0.5, 1], "format": ".1~f", "labelPadding": 3, "title": "Median 𝒩(t)", "titlePadding": 17}},
  "y": {"field": "y", "type": "quantitative", "scale": {"domain": [0, 1], "nice": false}, "axis": {"values": [0, 0.5, 1], "labels": false, "title": null}},
  "color": {"field": "c", "type": "nominal", "scale": {"domain": [0,1,2,3,4,5,6,7,8,9,10,11,12,13,14,15,16,17,18,19], "scheme": "category20"}, "legend": null},
  "fill": {"field": "c", "type": "nominal", "scale": {"domain": [0,1,2,3,4,5,6,7,8,9,10,11,12,13,14,15,16,17,18,19], "scheme": "category20"}, "legend": null}}},
{"title": "RLFreq", "width": 195, "height": 196, "data": {"name": "aRLFreq"},
 "mark": {"type": "point", "shape": "circle", "size": 75, "strokeWidth": 1.6, "filled": false, "fillOpacity": 0.3, "strokeOpacity": 0.9},
 "encoding": {
  "x": {"field": "x", "type": "quantitative", "scale": {"domain": [0, 1.02], "nice": false}, "axis": {"values": [0.5, 1], "format": ".1~f", "labelPadding": 3, "title": "Median 𝒩(t)", "titlePadding": 17}},
  "y": {"field": "y", "type": "quantitative", "scale": {"domain": [0, 1], "nice": false}, "axis": {"values": [0, 0.5, 1], "labels": false, "title": null}},
  "color": {"field": "c", "type": "nominal", "scale": {"domain": [0,1,2,3,4,5,6,7,8,9,10,11,12,13,14,15,16,17,18,19], "scheme": "category20"}, "legend": null},
  "fill": {"field": "c", "type": "nominal", "scale": {"domain": [0,1,2,3,4,5,6,7,8,9,10,11,12,13,14,15,16,17,18,19], "scheme": "category20"}, "legend": null}}}
],
"spacing": 25, "bounds": "flush",
"title": {"text": "(a) Median versus IQR for 𝒩(𝑡) for 71 algorithm runs (by selection operator).", "orient": "bottom", "anchor": "middle", "frame": "bounds", "font": "Liberation Serif", "fontSize": 27, "fontWeight": "normal", "color": "#000", "offset": 17}
},
{
"hconcat": [
{"title": {"text": "Rand", "offset": -5}, "width": 195, "height": 196, "data": {"name": "bRand"},
 "mark": {"type": "point", "shape": "M-1,-1L1,1M-1,1L1,-1", "size": 28, "strokeWidth": 1.6, "filled": false, "opacity": 0.9},
 "encoding": {
  "x": {"field": "x", "type": "quantitative", "scale": {"domain": [0, 1.02], "nice": false}, "axis": {"values": [0.5, 1], "format": ".1~f", "title": "δ", "titleFont": "Liberation Serif", "titleFontSize": 22, "titleFontWeight": "bold", "titlePadding": 13}},
  "y": {"field": "y", "type": "quantitative", "scale": {"domain": [0, 50], "nice": false}, "axis": {"values": [0, 25, 50], "format": "d", "labelPadding": 7, "title": "φ", "titleFont": "Liberation Serif", "titleFontSize": 21, "titlePadding": 7}},
  "color": {"field": "c", "type": "nominal", "scale": {"domain": [0,1,2,3,4,5,6,7,8,9,10,11,12,13,14,15,16,17,18,19], "scheme": "category20"}, "legend": null}}},
{"title": "RoulM", "width": 195, "height": 196, "data": {"name": "bRoulM"},
 "mark": {"type": "point", "shape": "M-1,-1L1,1M-1,1L1,-1", "size": 28, "strokeWidth": 1.6, "filled": false, "opacity": 0.9},
 "encoding": {
  "x": {"field": "x", "type": "quantitative", "scale": {"domain": [0, 1.02], "nice": false}, "axis": {"values": [0.5, 1], "format": ".1~f", "title": "δ", "titleFont": "Liberation Serif", "titleFontSize": 22, "titleFontWeight": "bold", "titlePadding": 13}},
  "y": {"field": "y", "type": "quantitative", "scale": {"domain": [0, 50], "nice": false}, "axis": {"values": [0, 25, 50], "labels": false, "title": null}},
  "color": {"field": "c", "type": "nominal", "scale": {"domain": [0,1,2,3,4,5,6,7,8,9,10,11,12,13,14,15,16,17,18,19], "scheme": "category20"}, "legend": null}}},
{"title": "AProp", "width": 195, "height": 196, "data": {"name": "bAProp"},
 "mark": {"type": "point", "shape": "M-1,-1L1,1M-1,1L1,-1", "size": 28, "strokeWidth": 1.6, "filled": false, "opacity": 0.9},
 "encoding": {
  "x": {"field": "x", "type": "quantitative", "scale": {"domain": [0, 1.02], "nice": false}, "axis": {"values": [0.5, 1], "format": ".1~f", "title": "δ", "titleFont": "Liberation Serif", "titleFontSize": 22, "titleFontWeight": "bold", "titlePadding": 13}},
  "y": {"field": "y", "type": "quantitative", "scale": {"domain": [0, 50], "nice": false}, "axis": {"values": [0, 25, 50], "labels": false, "title": null}},
  "color": {"field": "c", "type": "nominal", "scale": {"domain": [0,1,2,3,4,5,6,7,8,9,10,11,12,13,14,15,16,17,18,19], "scheme": "category20"}, "legend": null}}},
{"title": "ETour25", "width": 195, "height": 196, "data": {"name": "bETour25"},
 "mark": {"type": "point", "shape": "M-1,-1L1,1M-1,1L1,-1", "size": 28, "strokeWidth": 1.6, "filled": false, "opacity": 0.9},
 "encoding": {
  "x": {"field": "x", "type": "quantitative", "scale": {"domain": [0, 1.02], "nice": false}, "axis": {"values": [0.5, 1], "format": ".1~f", "title": "δ", "titleFont": "Liberation Serif", "titleFontSize": 22, "titleFontWeight": "bold", "titlePadding": 13}},
  "y": {"field": "y", "type": "quantitative", "scale": {"domain": [0, 50], "nice": false}, "axis": {"values": [0, 25, 50], "labels": false, "title": null}},
  "color": {"field": "c", "type": "nominal", "scale": {"domain": [0,1,2,3,4,5,6,7,8,9,10,11,12,13,14,15,16,17,18,19], "scheme": "category20"}, "legend": null}}},
{"title": "DProp", "width": 195, "height": 196, "data": {"name": "bDProp"},
 "mark": {"type": "point", "shape": "M-1,-1L1,1M-1,1L1,-1", "size": 28, "strokeWidth": 1.6, "filled": false, "opacity": 0.9},
 "encoding": {
  "x": {"field": "x", "type": "quantitative", "scale": {"domain": [0, 1.02], "nice": false}, "axis": {"values": [0.5, 1], "format": ".1~f", "title": "δ", "titleFont": "Liberation Serif", "titleFontSize": 22, "titleFontWeight": "bold", "titlePadding": 13}},
  "y": {"field": "y", "type": "quantitative", "scale": {"domain": [0, 50], "nice": false}, "axis": {"values": [0, 25, 50], "labels": false, "title": null}},
  "color": {"field": "c", "type": "nominal", "scale": {"domain": [0,1,2,3,4,5,6,7,8,9,10,11,12,13,14,15,16,17,18,19], "scheme": "category20"}, "legend": null}}},
{"title": "RLFreq", "width": 195, "height": 196, "data": {"name": "bRLFreq"},
 "mark": {"type": "point", "shape": "M-1,-1L1,1M-1,1L1,-1", "size": 28, "strokeWidth": 1.6, "filled": false, "opacity": 0.9},
 "encoding": {
  "x": {"field": "x", "type": "quantitative", "scale": {"domain": [0, 1.02], "nice": false}, "axis": {"values": [0.5, 1], "format": ".1~f", "title": "δ", "titleFont": "Liberation Serif", "titleFontSize": 22, "titleFontWeight": "bold", "titlePadding": 13}},
  "y": {"field": "y", "type": "quantitative", "scale": {"domain": [0, 50], "nice": false}, "axis": {"values": [0, 25, 50], "labels": false, "title": null}},
  "color": {"field": "c", "type": "nominal", "scale": {"domain": [0,1,2,3,4,5,6,7,8,9,10,11,12,13,14,15,16,17,18,19], "scheme": "category20"}, "legend": null}}}
],
"spacing": 25, "bounds": "flush",
"title": {"text": "(b) φ versus δ for 71 algorithm runs (by selection operator).", "orient": "bottom", "anchor": "middle", "frame": "bounds", "font": "Liberation Serif", "fontSize": 27, "fontWeight": "normal", "color": "#000", "offset": 18}
}
]
}
